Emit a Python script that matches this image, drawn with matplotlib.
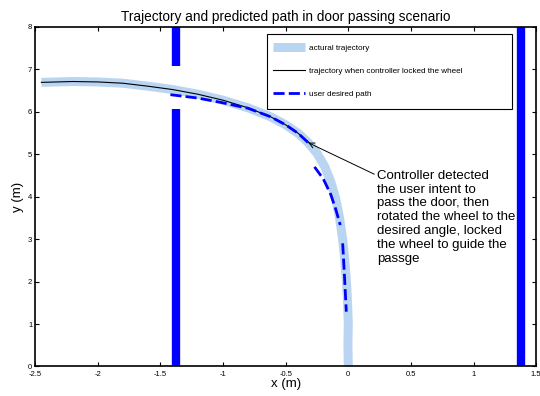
import numpy as np
import matplotlib
matplotlib.use('Agg')
import matplotlib.pyplot as plt
from matplotlib.patches import Rectangle

plt.rcParams['font.family'] = ['Liberation Sans', 'DejaVu Sans']

traj_x = [-2.45, -2.2, -2.0, -1.8, -1.6, -1.4, -1.2, -1.0, -0.8, -0.62, -0.5, -0.4, -0.32,
          -0.25, -0.19, -0.14, -0.1, -0.07, -0.045, -0.028, -0.015, -0.006, 0.0, -0.003, 0.0]
traj_y = [6.69, 6.71, 6.70, 6.67, 6.60, 6.52, 6.41, 6.27, 6.09, 5.88, 5.69, 5.49, 5.27,
          5.02, 4.72, 4.35, 3.95, 3.5, 3.0, 2.5, 2.0, 1.5, 1.0, 0.5, 0.0]

# trajectory when controller locked the wheel
lock_x = [-2.45, -2.2, -2.0, -1.8, -1.6, -1.4, -1.2, -1.0, -0.8, -0.62, -0.5, -0.4, -0.31]
lock_y = [6.69, 6.71, 6.70, 6.67, 6.60, 6.52, 6.41, 6.27, 6.09, 5.88, 5.69, 5.49, 5.26]

# user desired path (NaN = gap)
user_x = [-1.42, -1.2, -1.02, -0.8, -0.62, -0.5, -0.4, -0.32, np.nan,
          -0.27, -0.2, -0.14, -0.1, -0.064, np.nan, -0.045, -0.03, -0.016]
user_y = [6.40, 6.32, 6.22, 6.08, 5.88, 5.69, 5.49, 5.27, np.nan,
          4.70, 4.42, 4.05, 3.7, 3.33, np.nan, 2.9, 2.1, 1.29]

# door walls: (x, y_bottom, y_top)
wall_x = [-1.375, -1.375, 1.375]
wall_y0 = [0.0, 7.07, 0.0]
wall_y1 = [6.06, 8.0, 8.0]

fig = plt.figure(figsize=(5.4, 3.96), dpi=100)
ax = fig.add_axes([0.065, 0.0745, 0.928, 0.858])

for wx, a, b in zip(wall_x, wall_y0, wall_y1):
    ax.plot([wx, wx], [a, b], color='#0000ff', lw=6, solid_capstyle='butt')

ax.plot(traj_x, traj_y, color='#bad5f2', lw=6.5, solid_capstyle='butt', label='actural trajectory')
ax.plot(lock_x, lock_y, color='black', lw=0.8, label='trajectory when controller locked the wheel')
ax.plot(user_x, user_y, color='#0000ff', lw=2, ls=(0, (4, 1.5)), label='user desired path')

ax.annotate('Controller detected\nthe user intent to\npass the door, then\nrotated the wheel to the\ndesired angle, locked\nthe wheel to guide the\npassge',
            xy=(-0.32, 5.27), xytext=(0.23, 4.63), fontsize=9.5, va='top', ha='left',
            linespacing=1.2,
            arrowprops=dict(arrowstyle='->', color='black', lw=0.7, shrinkA=0, shrinkB=0,
                            relpos=(0, 0.94)))

ax.set_xlim(-2.5, 1.5)
ax.set_ylim(0, 8)
ax.set_xticks([-2.5, -2, -1.5, -1, -0.5, 0, 0.5, 1, 1.5])
ax.set_xticklabels(['-2.5', '-2', '-1.5', '-1', '-0.5', '0', '0.5', '1', '1.5'])
ax.set_yticks(range(0, 9))
ax.tick_params(direction='in', top=True, right=True, labelsize=5.5, length=3, width=0.8, pad=2)
ax.tick_params(axis='x', pad=3)
for s in ax.spines.values():
    s.set_linewidth(1.2)

ax.set_xlabel('x (m)', fontsize=9.5, labelpad=0)
ax.set_ylabel('y (m)', fontsize=9.5, labelpad=3)
ax.set_title('Trajectory and predicted path in door passing scenario', fontsize=9.8, pad=4)

# legend box drawn separately (MATLAB style with wide right margin)
ax.add_patch(Rectangle((0.463, 0.758), 0.489, 0.2205, transform=ax.transAxes,
                       facecolor='white', edgecolor='black', lw=0.8, zorder=4))
leg = ax.legend(loc='upper left', bbox_to_anchor=(0.475, 0.9497), fontsize=5.85, frameon=False,
                handlelength=3.94, labelspacing=1.9, borderpad=0, handletextpad=0.5,
                borderaxespad=0)
leg.set_zorder(5)

fig.savefig('out.png', dpi=100)
